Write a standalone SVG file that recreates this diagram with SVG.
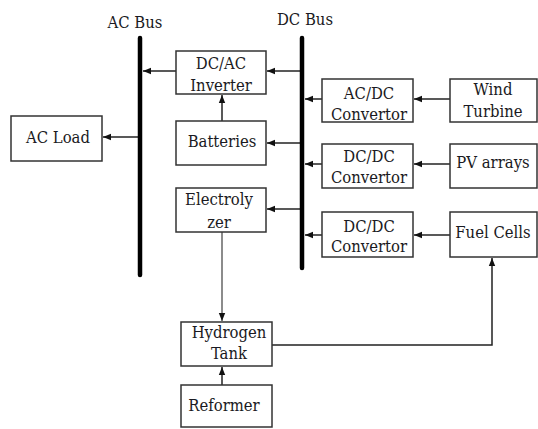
<svg xmlns="http://www.w3.org/2000/svg" width="538" height="429" viewBox="0 0 538 429">
<defs>
<marker id="ah" viewBox="0 0 8 8" refX="8" refY="4" markerWidth="8" markerHeight="8" markerUnits="userSpaceOnUse" orient="auto">
<path d="M0,0.8 L8,4 L0,7.2 Z" fill="#111"/>
</marker>
</defs>
<style>
.box{fill:#fff;stroke:#333;stroke-width:1.5}
.t{font-family:"DejaVu Serif","Liberation Serif",serif;font-stretch:condensed;font-size:16.5px;fill:#1a1a22;text-anchor:middle}
.c{fill:none;stroke:#222;stroke-width:1.5}
.bus{stroke:#000;stroke-width:4.5;stroke-linecap:round}
</style>
<rect width="538" height="429" fill="#fff"/>
<g id="connectors">
<line class="c" x1="176" y1="71" x2="143" y2="71" marker-end="url(#ah)"/>
<line class="c" x1="140" y1="137" x2="103" y2="137" marker-end="url(#ah)"/>
<line class="c" x1="222" y1="121" x2="222" y2="95" marker-end="url(#ah)"/>
<line class="c" x1="302" y1="71" x2="267" y2="71" marker-end="url(#ah)"/>
<line class="c" x1="302" y1="143" x2="267" y2="143" marker-end="url(#ah)"/>
<line class="c" x1="302" y1="209" x2="267" y2="209" marker-end="url(#ah)"/>
<line class="c" x1="322" y1="99" x2="305" y2="99" marker-end="url(#ah)"/>
<line class="c" x1="322" y1="164" x2="305" y2="164" marker-end="url(#ah)"/>
<line class="c" x1="322" y1="235" x2="305" y2="235" marker-end="url(#ah)"/>
<line class="c" x1="450" y1="99" x2="414" y2="99" marker-end="url(#ah)"/>
<line class="c" x1="450" y1="164" x2="414" y2="164" marker-end="url(#ah)"/>
<line class="c" x1="450" y1="235" x2="414" y2="235" marker-end="url(#ah)"/>
<line class="c" x1="222" y1="232" x2="222" y2="321" style="stroke:#666" marker-end="url(#ah)"/>
<line class="c" x1="222" y1="385" x2="222" y2="367" marker-end="url(#ah)"/>
<polyline class="c" points="272,345 492,345 492,258" marker-end="url(#ah)"/>
</g>
<g id="ac-bus">
<line class="bus" x1="140" y1="38" x2="140" y2="275"/>
<text class="t" x="135" y="28">AC Bus</text>
</g>
<g id="dc-bus">
<line class="bus" x1="302" y1="38" x2="302" y2="268"/>
<text class="t" x="305" y="25">DC Bus</text>
</g>
<g id="dc-ac-inverter">
<rect class="box" x="176" y="51" width="90" height="43"/>
<text class="t" x="221" y="69">DC/AC</text>
<text class="t" x="221" y="91">Inverter</text>
</g>
<g id="batteries">
<rect class="box" x="176" y="121" width="90" height="44"/>
<text class="t" x="222" y="147">Batteries</text>
</g>
<g id="electrolyzer">
<rect class="box" x="176" y="188" width="90" height="44"/>
<text class="t" x="219" y="205">Electroly</text>
<text class="t" x="219" y="228">zer</text>
</g>
<g id="ac-load">
<rect class="box" x="11" y="116" width="91" height="45"/>
<text class="t" x="58" y="143">AC Load</text>
</g>
<g id="ac-dc-convertor">
<rect class="box" x="322" y="79" width="91" height="43"/>
<text class="t" x="369" y="99">AC/DC</text>
<text class="t" x="369" y="120">Convertor</text>
</g>
<g id="wind-turbine">
<rect class="box" x="450" y="79" width="87" height="43"/>
<text class="t" x="493" y="95">Wind</text>
<text class="t" x="493" y="117">Turbine</text>
</g>
<g id="dc-dc-convertor-1">
<rect class="box" x="322" y="144" width="91" height="44"/>
<text class="t" x="369" y="162">DC/DC</text>
<text class="t" x="369" y="183">Convertor</text>
</g>
<g id="pv-arrays">
<rect class="box" x="450" y="144" width="87" height="44"/>
<text class="t" x="493" y="168">PV arrays</text>
</g>
<g id="dc-dc-convertor-2">
<rect class="box" x="322" y="212" width="91" height="45"/>
<text class="t" x="369" y="232">DC/DC</text>
<text class="t" x="369" y="252">Convertor</text>
</g>
<g id="fuel-cells">
<rect class="box" x="450" y="212" width="87" height="45"/>
<text class="t" x="493" y="238">Fuel Cells</text>
</g>
<g id="hydrogen-tank">
<rect class="box" x="181" y="322" width="91" height="44"/>
<text class="t" x="229" y="338">Hydrogen</text>
<text class="t" x="229" y="359">Tank</text>
</g>
<g id="reformer">
<rect class="box" x="181" y="385" width="91" height="42"/>
<text class="t" x="224" y="411">Reformer</text>
</g>
</svg>
